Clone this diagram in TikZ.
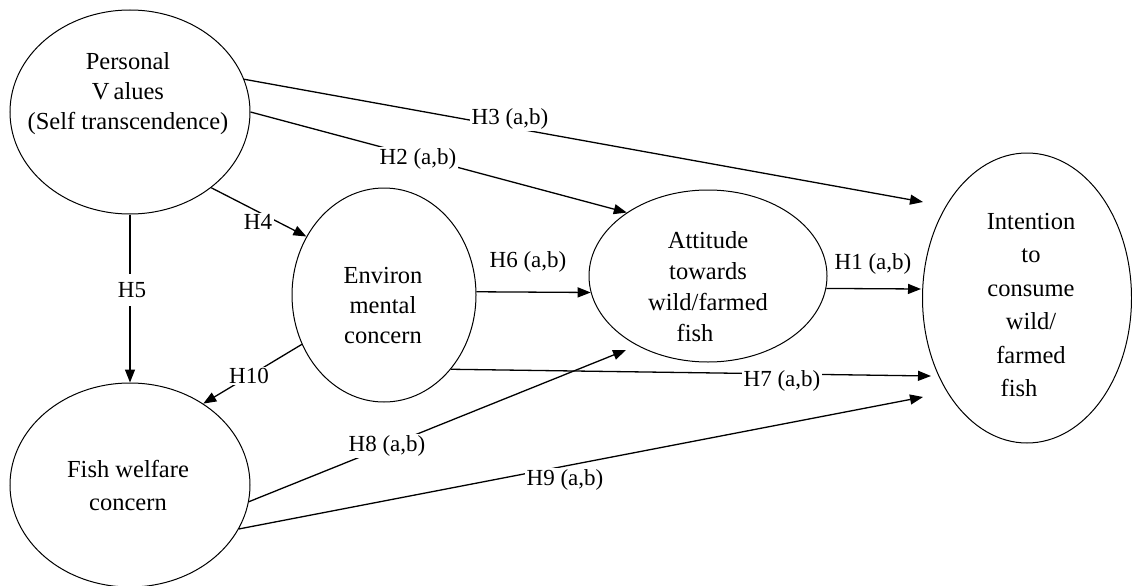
\documentclass[tikz,border=0pt]{standalone}
\usepackage{fontspec}
\setmainfont{Liberation Serif}
\usetikzlibrary{shapes.geometric,arrows.meta}
\begin{document}
\begin{tikzpicture}[x=1pt,y=-1pt,
  oval/.style={draw,ellipse,line width=1pt,inner sep=0pt},
  ovaltext/.style={align=center,inner sep=0pt},
  hyp/.style={fill=white,inner sep=1.5pt,font=\fontsize{23}{26}\selectfont},
  arr/.style={line width=1.3pt,-{Triangle[length=13pt,width=10pt]}}]
\useasboundingbox[fill=white] (0,0) rectangle (1132,586);
% ellipses
\node[oval,minimum width=240pt,minimum height=204pt] (pv) at (130,112) {};
\node[oval,minimum width=240pt,minimum height=204pt] (fw) at (130,485) {};
\node[oval,minimum width=184pt,minimum height=214pt] (env) at (384,295) {};
\node[oval,minimum width=238pt,minimum height=172pt] (att) at (708,276) {};
\node[oval,minimum width=209pt,minimum height=290pt] (int) at (1027,298) {};
% texts
\node[ovaltext,font=\fontsize{24.5}{30}\selectfont] (pvt) at (128,94) {Personal\\V\hspace{4pt}alues\\(Self transcendence)};
\node[ovaltext,font=\fontsize{24.5}{33}\selectfont] (fwt) at (128,485) {Fish welfare\\concern};
\node[ovaltext,font=\fontsize{24.5}{30}\selectfont] (envt) at (383,306) {Environ\\mental\\concern};
\node[ovaltext,font=\fontsize{24.5}{31}\selectfont] (attt) at (708,287) {Attitude\\towards\\wild/farmed\\fish\hspace*{26pt}};
\node[ovaltext,font=\fontsize{24.5}{33.5}\selectfont] (intt) at (1031,305) {Intention\\to\\consume\\wild/\\farmed\\fish\hspace*{24pt}};
% free arrow ends
\coordinate (h3tip) at (923,202);
\coordinate (h1tip) at (921,289);
\coordinate (h7tip) at (931,376);
\coordinate (h9tip) at (923,397);
\coordinate (h8tip) at (626,350);
% connectors
\draw[arr] (pv.16) -- (h3tip);
\draw[arr] (pv.0) -- (att.142);
\draw[arr] (pv.-43) -- (env.143);
\draw[arr] (pv.south) -- (fw.north);
\draw[arr] (env.211) -- (fw.48);
\draw[arr] (env.2) -- (att.188);
\draw[arr] (att.-6) -- (h1tip);
\draw[arr] (env.-48) -- (h7tip);
\draw[arr] (fw.-8) -- (h8tip);
\draw[arr] (fw.-22) -- (h9tip);
% labels
\node[hyp] (l3) at (510,119) {H3 (a,b)};
\node[hyp] (l2) at (418,159) {H2 (a,b)};
\node[hyp] (l4) at (258,222) {H4};
\node[hyp,inner ysep=8pt] (l5) at (132,290) {H5};
\node[hyp] (l6) at (528,262) {H6 (a,b)};
\node[hyp] (l1) at (873,264) {H1 (a,b)};
\node[hyp] (l10) at (249,376) {H10};
\node[hyp] (l7) at (782,381) {H7 (a,b)};
\node[hyp] (l8) at (387,446) {H8 (a,b)};
\node[hyp] (l9) at (565,480) {H9 (a,b)};
\end{tikzpicture}
\end{document}
